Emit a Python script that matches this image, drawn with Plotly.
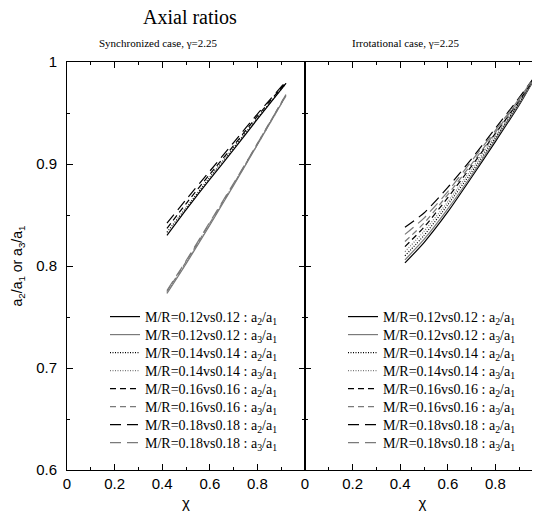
import plotly.graph_objects as go
from plotly.subplots import make_subplots

# ---------------- data ----------------
mass_ratios = ["0.12", "0.14", "0.16", "0.18"]
ratio_names = ["a2", "a3"]

# Synchronized case (left panel)
sync_chi = [0.42, 0.50, 0.60, 0.70, 0.80, 0.92]
sync_a2 = {
    "0.12": [0.830, 0.855, 0.885, 0.914, 0.944, 0.979],
    "0.14": [0.833, 0.857, 0.887, 0.916, 0.945, 0.979],
    "0.16": [0.837, 0.861, 0.890, 0.918, 0.947, 0.980],
    "0.18": [0.842, 0.865, 0.893, 0.921, 0.949, 0.981],
}
sync_a3 = {
    "0.12": [0.773, 0.802, 0.840, 0.879, 0.919, 0.967],
    "0.14": [0.774, 0.803, 0.841, 0.880, 0.919, 0.967],
    "0.16": [0.775, 0.804, 0.842, 0.880, 0.920, 0.968],
    "0.18": [0.776, 0.805, 0.843, 0.881, 0.920, 0.968],
}

# Irrotational case (right panel)
irr_chi = [0.42, 0.50, 0.60, 0.70, 0.80, 0.90, 0.96]
irr_a2 = {
    "0.12": [0.803, 0.823, 0.853, 0.887, 0.922, 0.958, 0.982],
    "0.14": [0.810, 0.830, 0.860, 0.892, 0.926, 0.960, 0.983],
    "0.16": [0.819, 0.838, 0.867, 0.898, 0.930, 0.962, 0.983],
    "0.18": [0.838, 0.852, 0.877, 0.905, 0.935, 0.965, 0.984],
}
irr_a3 = {
    "0.12": [0.806, 0.826, 0.856, 0.889, 0.924, 0.959, 0.982],
    "0.14": [0.814, 0.834, 0.863, 0.895, 0.928, 0.961, 0.983],
    "0.16": [0.824, 0.842, 0.870, 0.900, 0.931, 0.963, 0.983],
    "0.18": [0.831, 0.847, 0.873, 0.903, 0.933, 0.964, 0.984],
}

x_tickvals = [0, 0.2, 0.4, 0.6, 0.8, 1.0]
x_ticktext = ["0", "0.2", "0.4", "0.6", "0.8", ""]
x_minor = [0.1, 0.3, 0.5, 0.7, 0.9]
y_tickvals = [0.6, 0.7, 0.8, 0.9, 1.0]
y_ticktext = ["0.6", "0.7", "0.8", "0.9", "1"]
y_minor = [0.65, 0.75, 0.85, 0.95]

# ---------------- styles ----------------
OFF = 8                      # default page (body) margin of the html page
W, H = 540 - OFF, 519 - OFF  # figure size so that it ends at the window edge
ML, MR, MT, MB = 67 - OFF, 0, 62 - OFF, 49
PW, PH = W - ML - MR, H - MT - MB
split = 238 / PW
dash_for = {"0.12": "solid", "0.14": "1px,1.5px", "0.16": "6px,4px", "0.18": "11px,6px"}
color_for = {"a2": "#000000", "a3": "#7a7a7a"}
sub_for = {"a2": "2", "a3": "3"}
SERIF = "Liberation Serif, Times New Roman, serif"
SANS = "Liberation Sans, Arial, sans-serif"


def px_to_paper(px, py):
    """page pixel -> paper coordinates"""
    fx, fy = px - OFF, py - OFF
    return (fx - ML) / PW, (H - MB - fy) / PH


fig = make_subplots(rows=1, cols=2, shared_yaxes=True, horizontal_spacing=0)

legend_layout = {}
leg_idx = 0
row_y0, row_dy = 317, 18.0
panels = [
    (1, sync_chi, sync_a2, sync_a3, 110),
    (2, irr_chi, irr_a2, irr_a3, 348),
]
for col, chi, a2d, a3d, lx in panels:
    row = 0
    for mr in mass_ratios:
        for rn in ratio_names:
            leg_idx += 1
            lname = "legend" if leg_idx == 1 else f"legend{leg_idx}"
            ys = a2d[mr] if rn == "a2" else a3d[mr]
            label = f"M/R={mr}vs{mr} : a<sub>{sub_for[rn]}</sub>/a<sub>1</sub>"
            fig.add_trace(
                go.Scatter(
                    x=chi, y=ys, mode="lines", name=label,
                    line=dict(color=color_for[rn], width=1.2, dash=dash_for[mr], shape="spline", smoothing=0.6),
                    legend=lname, showlegend=True,
                ),
                row=1, col=col,
            )
            py = row_y0 + row * row_dy
            lxp, lyp = px_to_paper(lx - 5, py)
            legend_layout[lname] = dict(
                x=lxp, y=lyp, xref="paper", yref="paper",
                xanchor="left", yanchor="middle",
                bgcolor="rgba(0,0,0,0)", borderwidth=0,
                font=dict(family=SERIF, size=14, color="#000"),
                itemwidth=30,
            )
            row += 1

axis_common = dict(
    showline=True, linecolor="#000", linewidth=1, mirror="ticks",
    ticks="inside", tickcolor="#000", tickwidth=1, showgrid=False, zeroline=False,
)

fig.update_xaxes(
    **axis_common,
    tickvals=x_tickvals, ticktext=x_ticktext, ticklen=6,
    minor=dict(tickvals=x_minor, ticklen=3, ticks="inside", tickcolor="#000", showgrid=False),
    tickfont=dict(family=SANS, size=15, color="#000"),
    title=dict(text="χ", font=dict(family=SANS, size=15, color="#000"), standoff=6),
)
fig.update_xaxes(range=[0, 1.0], domain=[0, split], row=1, col=1)
fig.update_xaxes(range=[0, (PW - 238) / 238], domain=[split, 1], row=1, col=2)

fig.update_yaxes(
    **axis_common,
    range=[0.6, 1.0], tickvals=y_tickvals, ticktext=y_ticktext, ticklen=6,
    minor=dict(tickvals=y_minor, ticklen=3, ticks="inside", tickcolor="#000", showgrid=False),
    tickfont=dict(family=SANS, size=15, color="#000"),
)
fig.update_yaxes(
    title=dict(text="a<sub>2</sub>/a<sub>1</sub> or a<sub>3</sub>/a<sub>1</sub>",
               font=dict(family=SANS, size=14, color="#000"), standoff=10),
    ticklabelstandoff=6, row=1, col=1,
)
fig.update_yaxes(showticklabels=False, row=1, col=2)

annotations = []
for text, px, py, size in [
    ("Axial ratios", 190, 17, 20),
    ("Synchronized case, γ=2.25", 158, 43, 11),
    ("Irrotational case, γ=2.25", 405, 43, 11),
]:
    ax, ay = px_to_paper(px, py)
    annotations.append(dict(
        text=text, x=ax, y=ay, xref="paper", yref="paper",
        xanchor="center", yanchor="middle", showarrow=False,
        font=dict(family=SERIF, size=size, color="#000"),
    ))

fig.update_layout(
    width=W, height=H,
    margin=dict(l=ML, r=MR, t=MT, b=MB, autoexpand=False),
    paper_bgcolor="white", plot_bgcolor="white",
    annotations=annotations,
    **legend_layout,
)

fig.write_html("out.html")
